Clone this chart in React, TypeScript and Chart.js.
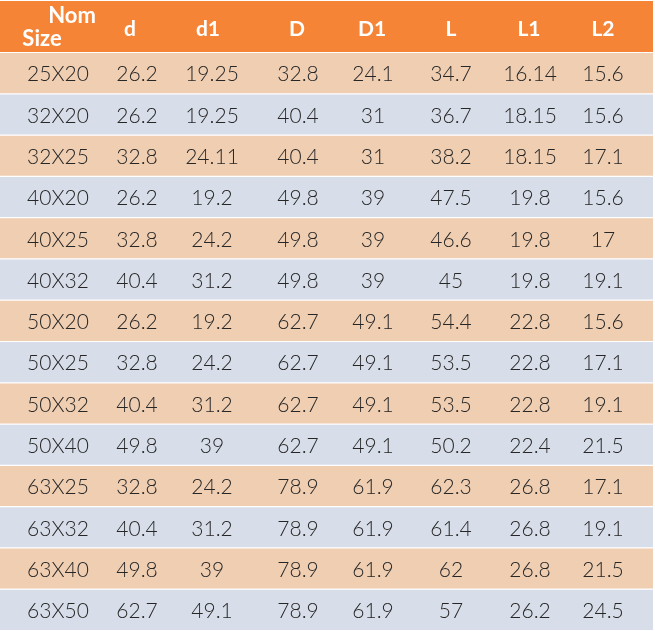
import React, { useEffect, useRef } from "react";
import { Chart, registerables } from "chart.js";

Chart.register(...registerables);

const sizes = ["25X20", "32X20", "32X25", "40X20", "40X25", "40X32", "50X20", "50X25", "50X32", "50X40", "63X25", "63X32", "63X40", "63X50"];
const dVals = [26.2, 26.2, 32.8, 26.2, 32.8, 40.4, 26.2, 32.8, 40.4, 49.8, 32.8, 40.4, 49.8, 62.7];
const d1Vals = [19.25, 19.25, 24.11, 19.2, 24.2, 31.2, 19.2, 24.2, 31.2, 39, 24.2, 31.2, 39, 49.1];
const DVals = [32.8, 40.4, 40.4, 49.8, 49.8, 49.8, 62.7, 62.7, 62.7, 62.7, 78.9, 78.9, 78.9, 78.9];
const D1Vals = [24.1, 31, 31, 39, 39, 39, 49.1, 49.1, 49.1, 49.1, 61.9, 61.9, 61.9, 61.9];
const LVals = [34.7, 36.7, 38.2, 47.5, 46.6, 45, 54.4, 53.5, 53.5, 50.2, 62.3, 61.4, 62, 57];
const L1Vals = [16.14, 18.15, 18.15, 19.8, 19.8, 19.8, 22.8, 22.8, 22.8, 22.4, 26.8, 26.8, 26.8, 26.2];
const L2Vals = [15.6, 15.6, 17.1, 15.6, 17, 19.1, 15.6, 17.1, 19.1, 21.5, 17.1, 19.1, 21.5, 24.5];
const headers = ["d", "d1", "D", "D1", "L", "L1", "L2"];

// layout (x-scale units)
const TABLE_W = 653;
const COL_X = [58, 137, 212, 298, 373, 451, 530, 603];
const HEAD_X = [130, 208, 297, 372, 451, 529, 603];

const ORANGE = "#F58436";
const PEACH = "#EFCEB2";
const BLUE = "#D8DEE9";
const TEXT = "#262626";

export default function App() {
  const ref = useRef<HTMLCanvasElement>(null);
  useEffect(() => {
    const canvas = ref.current!;
    const columns = [sizes, dVals, d1Vals, DVals, D1Vals, LVals, L1Vals, L2Vals];
    const tablePlugin = {
      id: "tableText",
      beforeDatasetsDraw(chart: any) {
        const ctx = chart.ctx;
        const xs = chart.scales.x;
        const top = chart.chartArea.top;
        ctx.save();
        ctx.fillStyle = ORANGE;
        const x0 = xs.getPixelForValue(0);
        const x1 = xs.getPixelForValue(TABLE_W);
        ctx.fillRect(x0, 1, x1 - x0, top - 0.5 - 1);
        ctx.restore();
      },
      afterDatasetsDraw(chart: any) {
        const ctx = chart.ctx;
        const xs = chart.scales.x;
        const ys = chart.scales.y;
        ctx.save();
        ctx.textAlign = "center";
        ctx.textBaseline = "middle";
        ctx.fillStyle = "#ffffff";
        ctx.font = "bold 22px Lato";
        ctx.fillText("Nom", xs.getPixelForValue(72), 16);
        ctx.fillText("Size", xs.getPixelForValue(42), 39);
        ctx.font = "bold 21px Lato";
        headers.forEach((h, j) => {
          ctx.fillText(h, xs.getPixelForValue(HEAD_X[j]), 29);
        });
        ctx.fillStyle = TEXT;
        ctx.font = "300 21px Lato";
        sizes.forEach((_, i) => {
          const y = ys.getPixelForValue(i) + 1.5;
          columns.forEach((col, j) => {
            ctx.fillText(String(col[i]), xs.getPixelForValue(COL_X[j]), y);
          });
        });
        ctx.restore();
      },
    };
    const chart = new Chart(canvas, {
      type: "bar",
      data: {
        labels: sizes,
        datasets: [
          {
            data: sizes.map(() => [0, TABLE_W]) as any,
            backgroundColor: (c: any) => (c.dataIndex % 2 === 0 ? PEACH : BLUE),
            borderWidth: 0,
            barPercentage: 0.971,
            categoryPercentage: 1,
          },
        ],
      },
      options: {
        indexAxis: "y",
        responsive: false,
        animation: false,
        layout: { padding: { top: 52.5, bottom: 0.5, left: 0, right: 2 } },
        plugins: { legend: { display: false }, tooltip: { enabled: false } },
        scales: {
          x: { type: "linear", min: 0, max: TABLE_W, display: false },
          y: { type: "category", display: false },
        },
      },
      plugins: [tablePlugin],
    });
    return () => chart.destroy();
  }, []);
  return (
    <div style={{ position: "absolute", left: 0, top: 0, width: 655, height: 631, background: "#fff" }}>
      <canvas ref={ref} width={655} height={631} style={{ display: "block" }} />
    </div>
  );
}
